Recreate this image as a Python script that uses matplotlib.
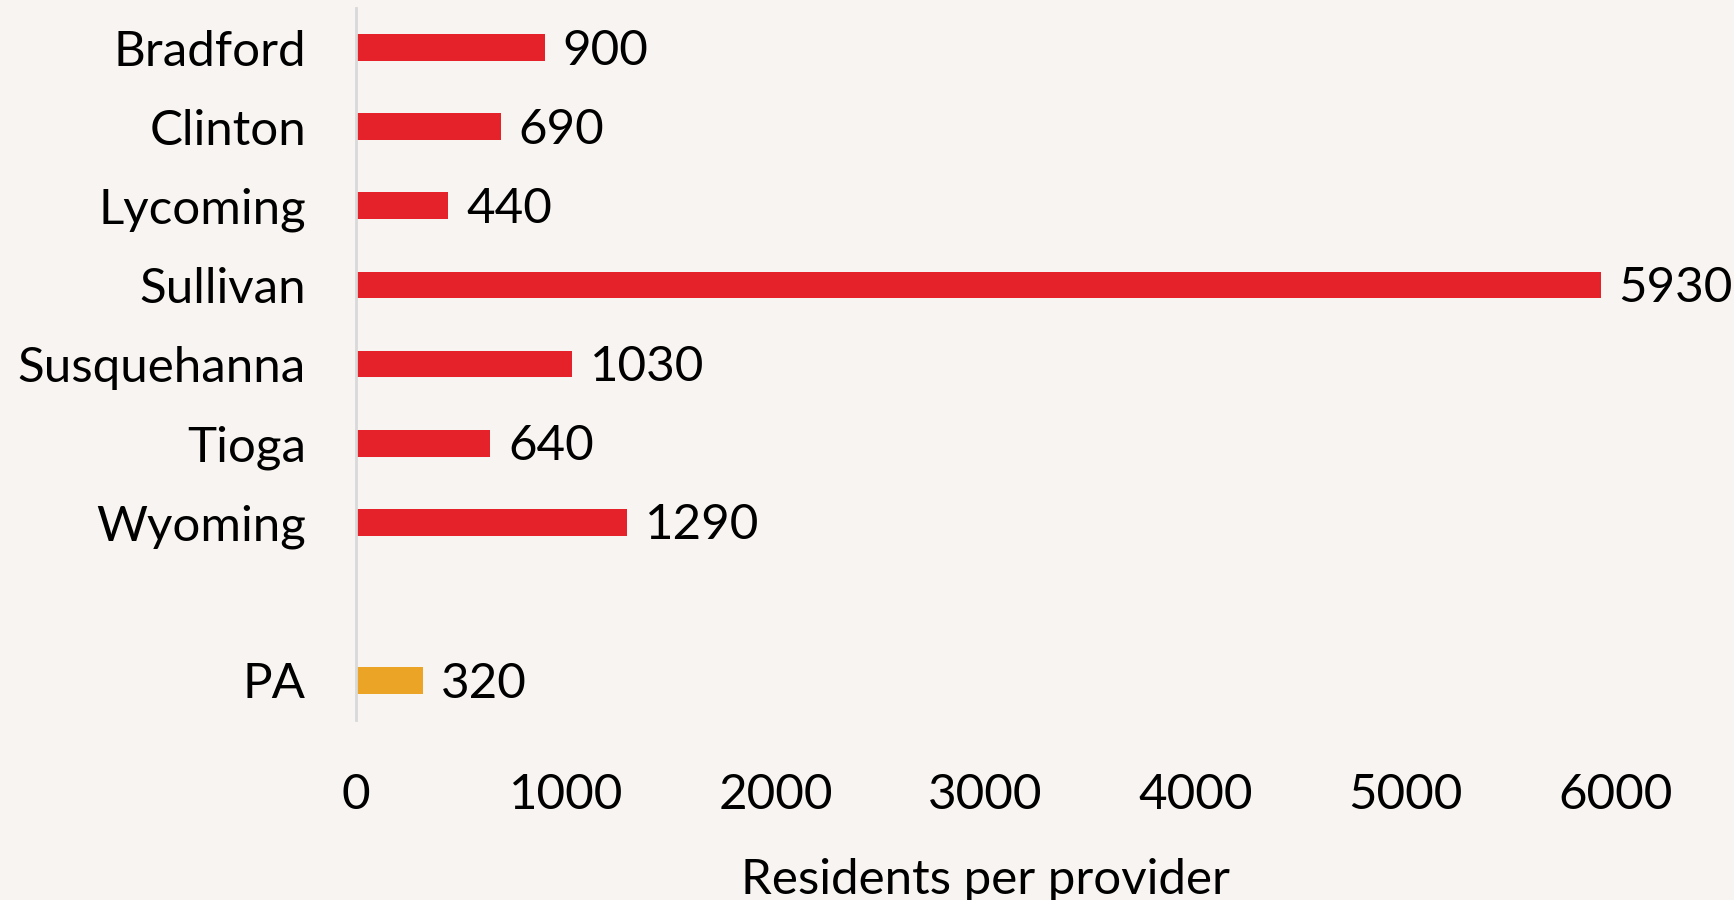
import matplotlib.pyplot as plt

counties = ["Bradford", "Clinton", "Lycoming", "Sullivan", "Susquehanna",
            "Tioga", "Wyoming", "", "PA"]
values = [900, 690, 440, 5930, 1030, 640, 1290, None, 320]
colors = ["#E52229"] * 7 + ["none", "#ECA427"]

plt.rcParams['font.family'] = ['Lato', 'DejaVu Sans']
bg = "#F7F4F1"
fs = 35.5

fig = plt.figure(figsize=(17.34, 9), dpi=100, facecolor=bg)
ax = fig.add_axes([0.2053, 0.2, 0.9315 - 0.2053, 0.791])
ax.set_facecolor(bg)

ypos = list(range(len(counties)))
for y, v, c in zip(ypos, values, colors):
    if v is None:
        continue
    ax.barh(y, v, height=0.34, color=c)
    ax.text(v + 85, y + 0.04, str(v), va='center', ha='left', fontsize=fs)

ax.set_ylim(len(counties) - 0.5, -0.5)
ax.set_xlim(0, 6000)
ax.set_yticks(ypos)
ax.set_yticklabels(counties, fontsize=fs)
ax.set_xticks([0, 1000, 2000, 3000, 4000, 5000, 6000])
ax.tick_params(axis='x', labelsize=fs, length=0, pad=38)
ax.tick_params(axis='y', length=0, pad=36)
ax.set_xlabel("Residents per provider", fontsize=fs, labelpad=30)

for s in ["top", "right", "bottom"]:
    ax.spines[s].set_visible(False)
ax.spines["left"].set_color("#D9D9D9")
ax.spines["left"].set_linewidth(2)

fig.savefig("out.png", dpi=100, facecolor=bg)
